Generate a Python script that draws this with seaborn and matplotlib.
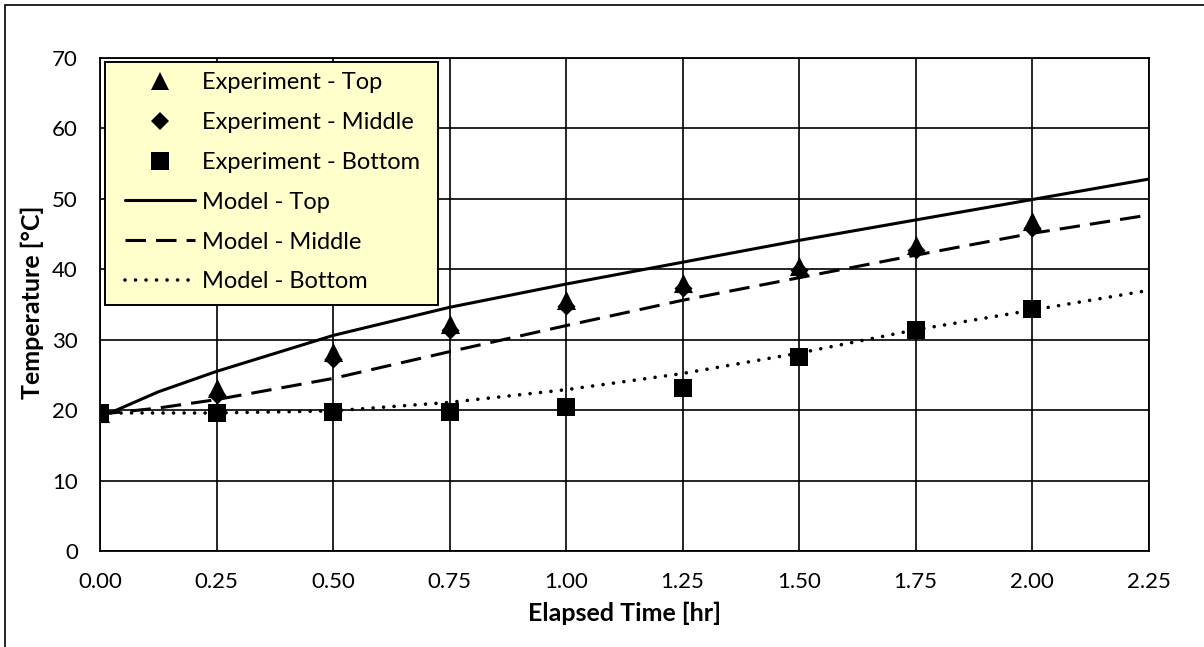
import numpy as np
import pandas as pd
import matplotlib
matplotlib.use("Agg")
import matplotlib.pyplot as plt
from matplotlib.patches import Rectangle
from matplotlib.lines import Line2D
import seaborn as sns

# Measured temperatures at the three probe heights
exp_time = [0.00, 0.25, 0.50, 0.75, 1.00, 1.25, 1.50, 1.75, 2.00]
exp_top = [19.6, 23.1, 28.3, 32.3, 35.6, 38.0, 40.4, 43.5, 46.8]
exp_middle = [19.6, 22.2, 27.2, 31.4, 34.8, 37.4, 39.9, 42.8, 45.8]
exp_bottom = [19.6, 19.6, 19.8, 19.8, 20.4, 23.2, 27.5, 31.4, 34.4]

# Simulated temperature histories
model_time = [0.00, 0.025, 0.125, 0.25, 0.50, 0.75, 1.00, 1.25, 1.50, 1.75, 2.00, 2.25]
model_top = [19.6, 19.7, 22.6, 25.5, 30.6, 34.6, 37.9, 41.0, 44.1, 47.0, 49.9, 52.8]
model_middle = [19.6, 19.6, 20.3, 21.5, 24.5, 28.3, 32.0, 35.6, 38.8, 42.0, 45.1, 47.7]
model_bottom = [19.6, 19.6, 19.6, 19.6, 19.9, 21.1, 22.9, 25.2, 28.1, 31.4, 34.2, 37.0]

x_ticks = [0.00, 0.25, 0.50, 0.75, 1.00, 1.25, 1.50, 1.75, 2.00, 2.25]
y_ticks = [0, 10, 20, 30, 40, 50, 60, 70]

sns.set_theme(style="white")
plt.rcParams["font.family"] = ["Lato", "DejaVu Sans"]

W, H = 1204, 647
fig = plt.figure(figsize=(W / 100, H / 100), dpi=100)
ax_left, ax_right, ax_top, ax_bottom = 100, 1148.5, 58, 551
ax_w, ax_h = ax_right - ax_left, ax_bottom - ax_top
ax = fig.add_axes([ax_left / W, 1 - ax_bottom / H, ax_w / W, ax_h / H])


def px_to_axes(px, py):
    return (px - ax_left) / ax_w, (ax_bottom - py) / ax_h


exp_df = pd.DataFrame({"t": exp_time, "top": exp_top, "mid": exp_middle, "bot": exp_bottom})
mod_df = pd.DataFrame({"t": model_time, "top": model_top, "mid": model_middle, "bot": model_bottom})

lw = 2.2
dash_style = (0, (6.7, 3.3))
dot_lw = 2.6
dot_style = (0, (0.01, 2.9))

sns.lineplot(data=mod_df, x="t", y="top", ax=ax, color="black", lw=lw,
             linestyle="-", zorder=3)
sns.lineplot(data=mod_df, x="t", y="mid", ax=ax, color="black", lw=lw,
             linestyle=dash_style, zorder=3)
sns.lineplot(data=mod_df, x="t", y="bot", ax=ax, color="black", lw=dot_lw,
             linestyle=dot_style, dash_capstyle="round", zorder=3)

sns.scatterplot(data=exp_df, x="t", y="top", ax=ax, marker="^", s=190,
                color="black", edgecolor="black", linewidth=0, zorder=4)
sns.scatterplot(data=exp_df, x="t", y="mid", ax=ax, marker="D", s=85,
                color="black", edgecolor="black", linewidth=0, zorder=4)
sns.scatterplot(data=exp_df, x="t", y="bot", ax=ax, marker="s", s=180,
                color="black", edgecolor="black", linewidth=0, zorder=4)

ax.set_xlim(0, 2.25)
ax.set_ylim(0, 70)
ax.set_xticks(x_ticks)
ax.set_xticklabels([f"{v:.2f}" for v in x_ticks])
ax.set_yticks(y_ticks)
ax.set_yticklabels([str(v) for v in y_ticks])
ax.tick_params(axis="both", length=0, labelsize=16, colors="black")
ax.tick_params(axis="y", pad=16)
ax.tick_params(axis="x", pad=15)
ax.grid(True, color="black", linewidth=1.2)
ax.set_axisbelow(True)
for side in ["left", "bottom", "right", "top"]:
    ax.spines[side].set_visible(True)
    ax.spines[side].set_color("black")
    ax.spines[side].set_linewidth(1.3)

ax.set_xlabel("Elapsed Time [hr]", fontsize=18, fontweight="bold", color="black")
ax.set_ylabel("Temperature [°C]", fontsize=18, fontweight="bold", color="black")
ax.xaxis.set_label_coords(0.5, px_to_axes(0, 602)[1])
ax.yaxis.set_label_coords(px_to_axes(44, 0)[0], px_to_axes(0, 302)[1])

# Legend panel
bx0, by0 = px_to_axes(105, 305)
bx1, by1 = px_to_axes(438, 62)
ax.add_patch(Rectangle((bx0, by0), bx1 - bx0, by1 - by0, transform=ax.transAxes,
                       facecolor="#FFFFCC", edgecolor="black", linewidth=1.4, zorder=6))

handles = [
    Line2D([], [], linestyle="none", marker="^", markersize=12.5, color="black", markeredgewidth=0),
    Line2D([], [], linestyle="none", marker="D", markersize=9, color="black", markeredgewidth=0),
    Line2D([], [], linestyle="none", marker="s", markersize=12.5, color="black", markeredgewidth=0),
    Line2D([], [], color="black", lw=lw, linestyle="-"),
    Line2D([], [], color="black", lw=lw, linestyle=dash_style),
    Line2D([], [], color="black", lw=dot_lw, linestyle=dot_style, dash_capstyle="round"),
]
labels = ["Experiment - Top", "Experiment - Middle", "Experiment - Bottom",
          "Model - Top", "Model - Middle", "Model - Bottom"]
leg = ax.legend(handles, labels, loc="upper left", bbox_to_anchor=px_to_axes(125, 72),
                borderaxespad=0, borderpad=0, fontsize=17, frameon=False,
                handlelength=2.95, handletextpad=0.3, labelspacing=0.8)
leg.set_zorder(7)
for t in leg.get_texts():
    t.set_color("black")

# Thin frame around the whole figure
fig.patches.append(Rectangle((5 / W, -0.1), 1.2, 1.1 - 5 / H, transform=fig.transFigure,
                             fill=False, edgecolor="black", linewidth=1.2, clip_on=False))

fig.savefig("out.png", dpi=100, facecolor="white")
